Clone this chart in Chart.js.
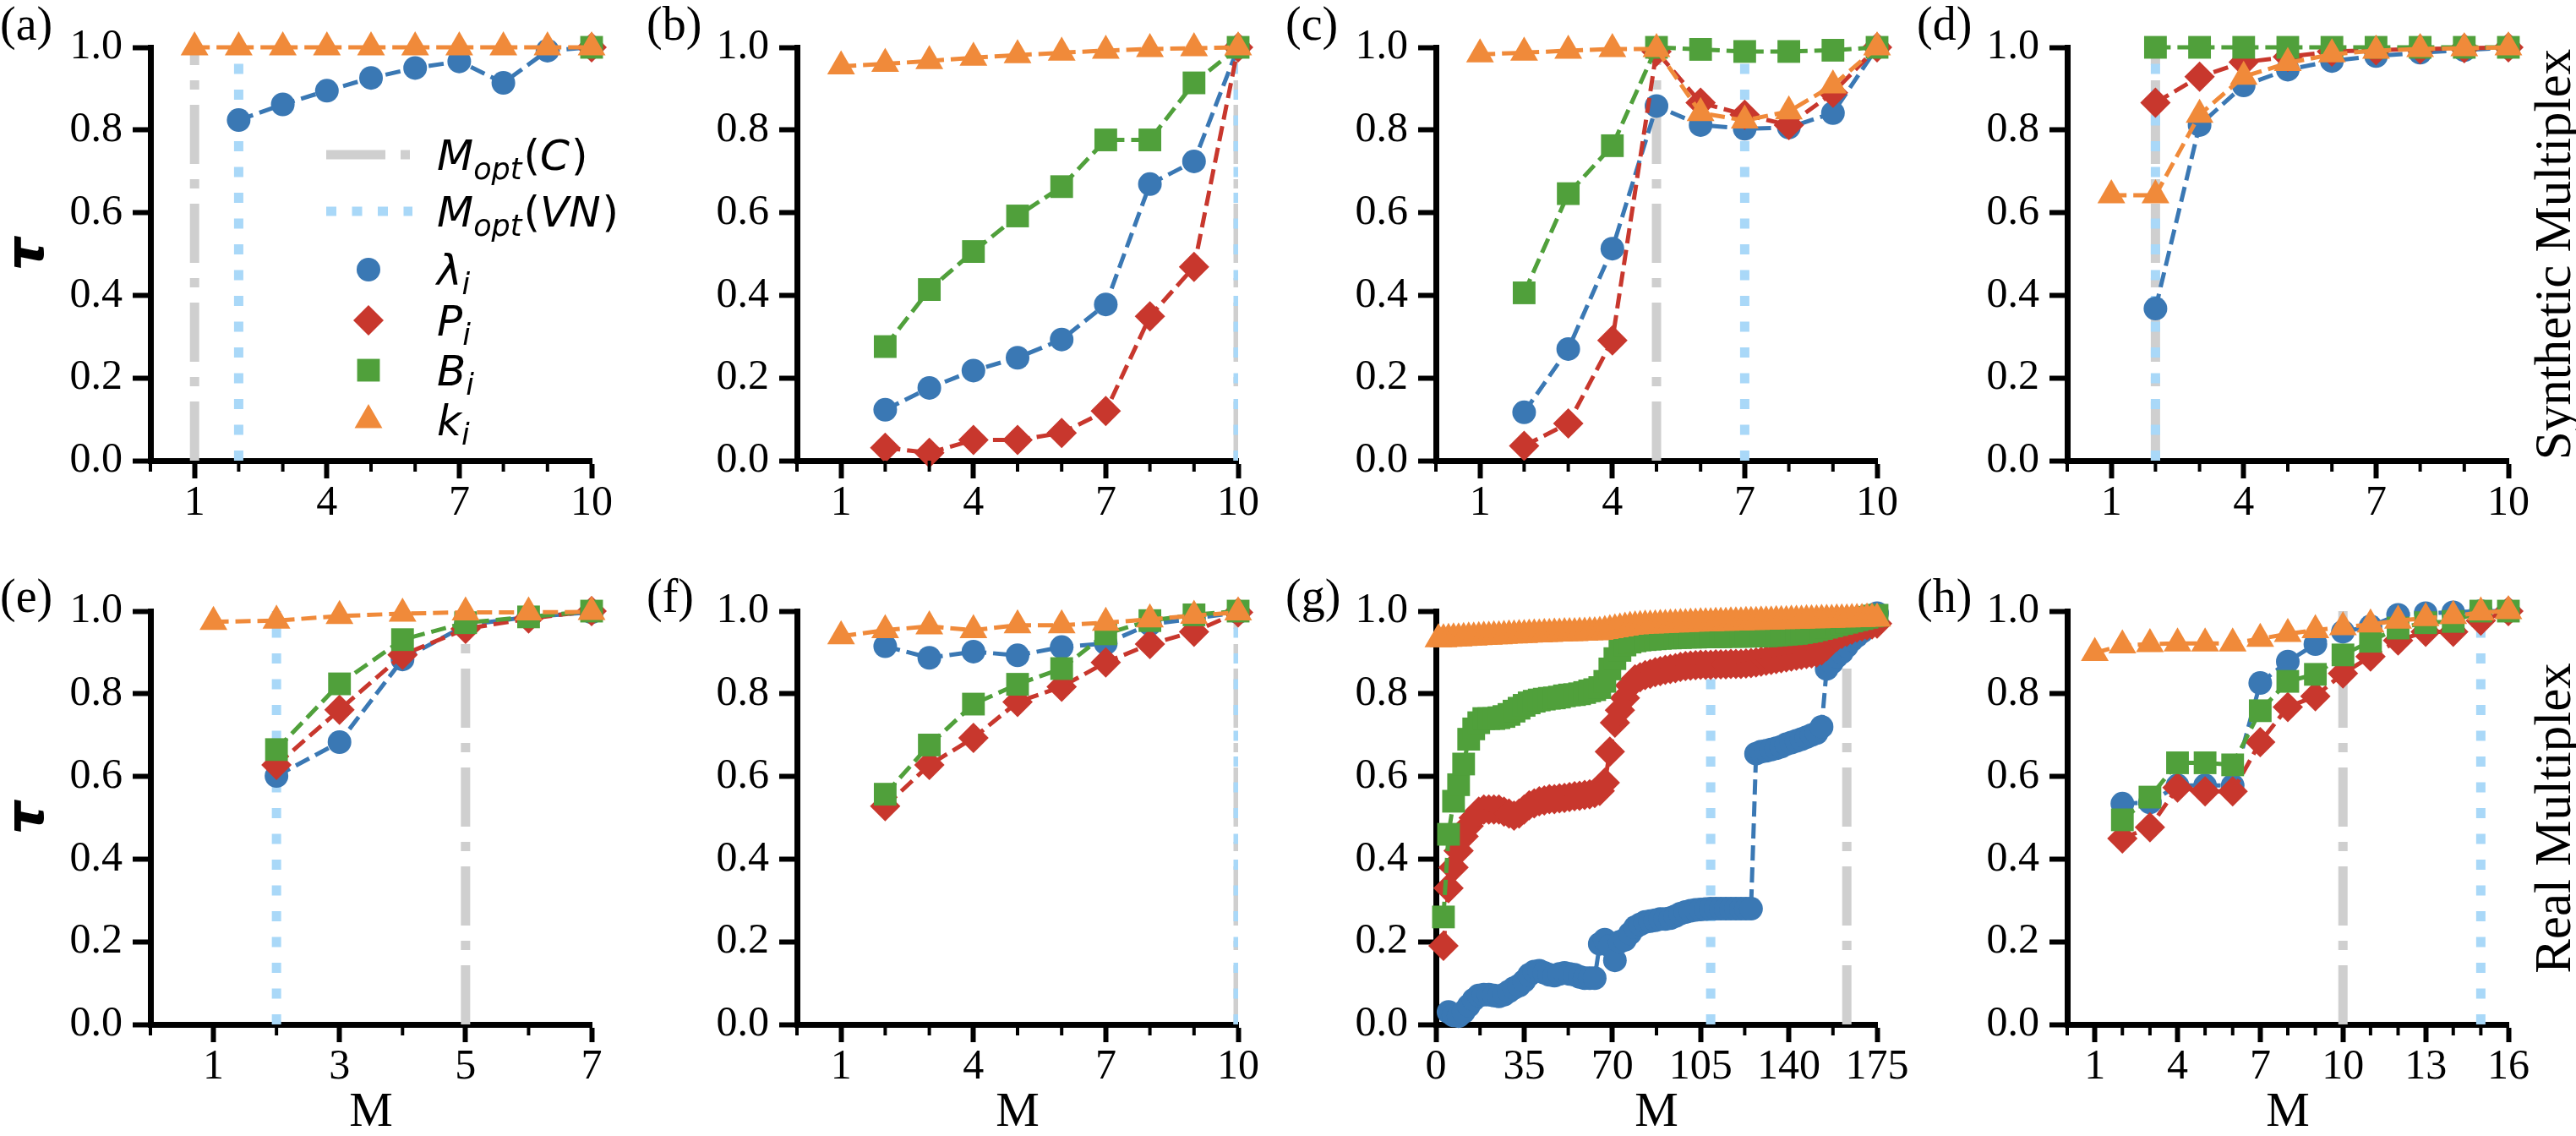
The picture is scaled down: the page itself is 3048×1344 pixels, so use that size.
<!DOCTYPE html>
<html>
<head>
<meta charset="utf-8">
<script src="https://cdn.jsdelivr.net/npm/chart.js@4.4.0/dist/chart.umd.min.js"></script>
<style>
  body { margin: 0; background: #fff; width: 3048px; height: 1344px; position: relative; overflow: hidden; }
  canvas { position: absolute; }
  .tag { position: absolute; font: 56px "Liberation Serif", serif; line-height: 56px; color: #000; white-space: nowrap; }
  .side { position: absolute; font: 61px "Liberation Serif", serif; color: #000; white-space: nowrap;
          transform: translate(-50%, -50%) rotate(-90deg); }
</style>
</head>
<body>
<div class="tag" style="left:0px;top:0px">(a)</div>
<div class="tag" style="left:765px;top:0px">(b)</div>
<div class="tag" style="left:1521px;top:0px">(c)</div>
<div class="tag" style="left:2268px;top:0px">(d)</div>
<div class="tag" style="left:0px;top:677px">(e)</div>
<div class="tag" style="left:765px;top:677px">(f)</div>
<div class="tag" style="left:1521px;top:677px">(g)</div>
<div class="tag" style="left:2268px;top:677px">(h)</div>
<div class="side" style="left:3021px;top:301px">Synthetic Multiplex</div>
<div class="side" style="left:3021px;top:968px">Real Multiplex</div>

<script>
// ── Data ──────────────────────────────────────────────────
const M10 = [1, 2, 3, 4, 5, 6, 7, 8, 9, 10];
const M7 = [1, 2, 3, 4, 5, 6, 7];
const M16 = [1, 2, 3, 4, 5, 6, 7, 8, 9, 10, 11, 12, 13, 14, 15, 16];

// (a)
const aLam = [null, 0.824, 0.862, 0.895, 0.926, 0.950, 0.966, 0.914, 0.992, 1.0];
const aP   = [null, null, null, null, null, null, null, null, null, 1.0];
const aB   = [null, null, null, null, null, null, null, null, null, 1.0];
const aK   = [1.0, 1.0, 1.0, 1.0, 1.0, 1.0, 1.0, 1.0, 1.0, 1.0];
// (b)
const bLam = [null, 0.123, 0.176, 0.218, 0.249, 0.293, 0.378, 0.669, 0.724, 1.0];
const bP   = [null, 0.031, 0.019, 0.050, 0.050, 0.067, 0.120, 0.349, 0.469, 1.0];
const bB   = [null, 0.276, 0.414, 0.506, 0.592, 0.663, 0.776, 0.776, 0.914, 1.0];
const bK   = [0.954, 0.960, 0.967, 0.975, 0.981, 0.987, 0.992, 0.996, 0.998, 1.0];
// (c)
const cLam = [null, 0.117, 0.270, 0.513, 0.858, 0.812, 0.803, 0.806, 0.841, 1.0];
const cP   = [null, 0.036, 0.090, 0.291, 0.990, 0.866, 0.837, 0.812, 0.890, 1.0];
const cB   = [null, 0.406, 0.646, 0.762, 1.0, 0.995, 0.990, 0.990, 0.993, 1.0];
const cK   = [0.983, 0.987, 0.992, 0.996, 0.996, 0.841, 0.823, 0.845, 0.908, 1.0];
// (d)
const dLam = [null, 0.368, 0.812, 0.908, 0.946, 0.967, 0.979, 0.987, 0.993, 1.0];
const dP   = [null, 0.866, 0.929, 0.964, 0.977, 0.990, 0.993, 0.996, 0.998, 1.0];
const dB   = [null, 1.0, 1.0, 1.0, 1.0, 1.0, 1.0, 1.0, 1.0, 1.0];
const dK   = [0.642, 0.642, 0.837, 0.929, 0.962, 0.983, 0.992, 0.996, 0.998, 1.0];
// (e)
const eLam = [null, 0.601, 0.683, 0.883, 0.966, 0.986, 0.997];
const eP   = [null, 0.628, 0.761, 0.894, 0.957, 0.982, 1.0];
const eB   = [null, 0.665, 0.824, 0.931, 0.972, 0.986, 1.0];
const eK   = [0.974, 0.977, 0.988, 0.994, 0.997, 0.997, 0.998];
// (f)
const fLam = [null, 0.915, 0.887, 0.902, 0.893, 0.913, 0.922, 0.968, 0.982, 0.997];
const fP   = [null, 0.528, 0.628, 0.693, 0.780, 0.817, 0.876, 0.920, 0.950, 0.997];
const fB   = [null, 0.557, 0.676, 0.775, 0.823, 0.861, 0.945, 0.977, 0.991, 1.0];
const fK   = [0.939, 0.954, 0.963, 0.954, 0.966, 0.966, 0.972, 0.980, 0.989, 0.997];
// (g) read every other M
const gM = [1, 3, 5, 7, 9, 11, 13, 15, 17, 19, 21, 23, 25, 27, 29, 31, 33, 35, 37, 39,
  41, 43, 45, 47, 49, 51, 53, 55, 57, 59, 61, 63, 65, 67, 69, 71, 73, 75, 77, 79,
  81, 83, 85, 87, 89, 91, 93, 95, 97, 99, 101, 103, 105, 107, 109, 111, 113, 115, 117, 119,
  121, 123, 125, 127, 129, 131, 133, 135, 137, 139, 141, 143, 145, 147, 149, 151, 153, 155, 157, 159,
  161, 163, 165, 167, 169, 171, 173, 175];
const gLam = [null, null, 0.03, 0.022, 0.02, 0.03, 0.045, 0.06, 0.07, 0.072,
  0.072, 0.07, 0.068, 0.072, 0.08, 0.088, 0.094, 0.105, 0.12, 0.128,
  0.13, 0.125, 0.12, 0.118, 0.122, 0.125, 0.122, 0.12, 0.115, 0.112,
  0.112, 0.112, 0.195, 0.205, 0.19, 0.155, 0.2, 0.205, 0.22, 0.235,
  0.242, 0.248, 0.25, 0.252, 0.255, 0.255, 0.257, 0.262, 0.268, 0.272,
  0.275, 0.277, 0.278, 0.279, 0.28, 0.28, 0.28, 0.28, 0.28, 0.28,
  0.28, 0.28, 0.28, 0.655, 0.66, 0.662, 0.665, 0.668, 0.672, 0.678,
  0.682, 0.686, 0.69, 0.695, 0.70, 0.705, 0.72, 0.86, 0.875, 0.89,
  0.90, 0.915, 0.93, 0.94, 0.95, 0.965, 0.985, 0.995];
const gP = [null, 0.19, 0.33, 0.38, 0.42, 0.455, 0.48, 0.50, 0.515, 0.52,
  0.52, 0.52, 0.52, 0.515, 0.51, 0.505, 0.51, 0.52, 0.53, 0.535,
  0.54, 0.542, 0.545, 0.545, 0.547, 0.548, 0.55, 0.552, 0.553, 0.555,
  0.557, 0.56, 0.565, 0.585, 0.66, 0.73, 0.76, 0.79, 0.82, 0.835,
  0.84, 0.845, 0.848, 0.852, 0.855, 0.858, 0.86, 0.862, 0.865, 0.867,
  0.868, 0.869, 0.87, 0.87, 0.87, 0.871, 0.871, 0.871, 0.872, 0.872,
  0.872, 0.873, 0.874, 0.876, 0.878, 0.88, 0.882, 0.884, 0.886, 0.888,
  0.89, 0.892, 0.894, 0.896, 0.898, 0.90, 0.905, 0.915, 0.93, 0.938,
  0.945, 0.95, 0.955, 0.96, 0.963, 0.966, 0.968, 0.97];
const gB = [null, 0.26, 0.46, 0.54, 0.58, 0.63, 0.69, 0.715, 0.73, 0.74,
  0.74, 0.74, 0.742, 0.745, 0.75, 0.758, 0.765, 0.772, 0.778, 0.782,
  0.785, 0.787, 0.789, 0.79, 0.792, 0.795, 0.797, 0.798, 0.80, 0.803,
  0.807, 0.81, 0.815, 0.83, 0.86, 0.885, 0.905, 0.918, 0.925, 0.928,
  0.93, 0.931, 0.932, 0.933, 0.934, 0.935, 0.935, 0.936, 0.936, 0.937,
  0.937, 0.937, 0.938, 0.938, 0.938, 0.938, 0.938, 0.939, 0.939, 0.939,
  0.939, 0.939, 0.94, 0.94, 0.94, 0.94, 0.941, 0.942, 0.943, 0.944,
  0.945, 0.946, 0.948, 0.95, 0.952, 0.955, 0.958, 0.961, 0.964, 0.967,
  0.97, 0.973, 0.976, 0.979, 0.982, 0.985, 0.988, 0.99];
const gK = [0.932, 0.932, 0.933, 0.934, 0.934, 0.935, 0.936, 0.936, 0.937, 0.938,
  0.938, 0.939, 0.939, 0.940, 0.941, 0.941, 0.942, 0.942, 0.943, 0.944,
  0.944, 0.945, 0.945, 0.946, 0.946, 0.947, 0.947, 0.947, 0.948, 0.948,
  0.949, 0.949, 0.950, 0.952, 0.954, 0.956, 0.958, 0.960, 0.962, 0.963,
  0.964, 0.965, 0.965, 0.966, 0.967, 0.967, 0.968, 0.968, 0.969, 0.969,
  0.970, 0.970, 0.971, 0.971, 0.971, 0.972, 0.972, 0.972, 0.973, 0.973,
  0.973, 0.974, 0.974, 0.974, 0.975, 0.975, 0.975, 0.976, 0.976, 0.976,
  0.977, 0.977, 0.977, 0.978, 0.978, 0.978, 0.979, 0.979, 0.979, 0.980,
  0.980, 0.980, 0.981, 0.981, 0.981, 0.982, 0.982, 0.982];
// (h)
const hLam = [null, 0.534, 0.537, 0.578, 0.578, 0.578, 0.826, 0.878, 0.920, 0.950, 0.963, 0.991, 0.995, 0.997, 1.0, 1.0];
const hP   = [null, 0.450, 0.477, 0.573, 0.564, 0.564, 0.683, 0.768, 0.794, 0.849, 0.890, 0.929, 0.950, 0.950, 0.977, 1.0];
const hB   = [null, 0.495, 0.550, 0.633, 0.633, 0.628, 0.759, 0.830, 0.847, 0.894, 0.927, 0.959, 0.972, 0.975, 1.0, 1.0];
const hK   = [0.899, 0.917, 0.920, 0.922, 0.922, 0.922, 0.933, 0.945, 0.954, 0.961, 0.968, 0.977, 0.983, 0.988, 0.997, 1.0];

// optimal M markers (vertical lines): [C, VN]
const optA = [1, 2], optB = [10, 10], optC = [5, 7], optD = [2, 2];
const optE = [5, 2], optF = [10, 10], optG = [163, 109], optH = [10, 15];

// axis ticks
const major10 = [1, 4, 7, 10];
const minor10 = [0, 2, 3, 5, 6, 8, 9];
const major7 = [1, 3, 5, 7];
const minor7 = [0, 2, 4, 6];
const major175 = [0, 35, 70, 105, 140, 175];
const minor175 = [17.5, 52.5, 87.5, 122.5, 157.5];
const major16 = [1, 4, 7, 10, 13, 16];
const minor16 = [0, 2, 3, 5, 6, 8, 9, 11, 12, 14, 15];

// ── Look ──────────────────────────────────────────────────
const BLUE = "#3a78b4", RED = "#c8372d", GREEN = "#50a03b", ORANGE = "#f08a3a";
const GREY_LINE = "#cfcfcf", SKY_LINE = "#a9d8f8";
const SERIF = '"Liberation Serif", serif';
const Y_AXIS_W = 180, PAD_TOP = 60, PAD_RIGHT = 60, AXIS_W = 522, AXIS_H = 489;
const TRI_R = 19;

const panels = [
  { M: M10, lam: aLam, P: aP, B: aB, k: aK, opt: optA, xMax: 10, major: major10, minor: minor10, sx: 178,  ty: 56,  legend: true, tau: true },
  { M: M10, lam: bLam, P: bP, B: bB, k: bK, opt: optB, xMax: 10, major: major10, minor: minor10, sx: 943,  ty: 56 },
  { M: M10, lam: cLam, P: cP, B: cB, k: cK, opt: optC, xMax: 10, major: major10, minor: minor10, sx: 1699, ty: 56 },
  { M: M10, lam: dLam, P: dP, B: dB, k: dK, opt: optD, xMax: 10, major: major10, minor: minor10, sx: 2446, ty: 56 },
  { M: M7,  lam: eLam, P: eP, B: eB, k: eK, opt: optE, xMax: 7,  major: major7,  minor: minor7,  sx: 178,  ty: 723, bottom: true, tau: true },
  { M: M10, lam: fLam, P: fP, B: fB, k: fK, opt: optF, xMax: 10, major: major10, minor: minor10, sx: 943,  ty: 723, bottom: true },
  { M: gM,  lam: gLam, P: gP, B: gB, k: gK, opt: optG, xMax: 175, major: major175, minor: minor175, sx: 1699, ty: 723, bottom: true },
  { M: M16, lam: hLam, P: hP, B: hB, k: hK, opt: optH, xMax: 16, major: major16, minor: minor16, sx: 2446, ty: 723, bottom: true },
];

function points(xs, ys) {
  const out = [];
  xs.forEach((x, i) => { if (ys[i] != null) out.push({ x, y: ys[i] }); });
  return out;
}

// short outward ticks between the labelled ones
const minorTicks = {
  id: "minorTicks",
  afterDraw(chart, args, opts) {
    const { ctx, chartArea } = chart;
    const xs = chart.scales.x;
    ctx.save();
    ctx.strokeStyle = "#000";
    ctx.lineWidth = 4;
    (opts.values || []).forEach((v) => {
      const px = xs.getPixelForValue(v);
      ctx.beginPath();
      ctx.moveTo(px, chartArea.bottom);
      ctx.lineTo(px, chartArea.bottom + 13);
      ctx.stroke();
    });
    ctx.restore();
  },
};

function subLabel(ctx, x, yc, main, sub, tail) {
  const base = yc + 18;
  ctx.textAlign = "left";
  ctx.textBaseline = "alphabetic";
  ctx.font = 'italic 50px "DejaVu Sans"';
  ctx.fillText(main, x, base);
  x += ctx.measureText(main).width;
  ctx.font = 'italic 35px "DejaVu Sans"';
  ctx.fillText(sub, x, base + 11);
  x += ctx.measureText(sub).width + 2;
  if (tail) {
    ctx.font = '50px "DejaVu Sans"';
    ctx.fillText("(", x, base);
    x += ctx.measureText("(").width;
    ctx.font = 'italic 50px "DejaVu Sans"';
    ctx.fillText(tail, x, base);
    x += ctx.measureText(tail).width + 2;
    ctx.font = '50px "DejaVu Sans"';
    ctx.fillText(")", x, base);
  }
}

// legend for panel (a)
const optLegend = {
  id: "optLegend",
  afterDraw(chart) {
    const { ctx, chartArea: ca } = chart;
    const x0 = ca.left + 208, x1 = ca.left + 310, mx = ca.left + 258, tx = ca.left + 339;
    const rows = [127, 194, 263, 323, 382, 441].map((r) => ca.top + r);
    ctx.save();
    ctx.lineCap = "butt";
    ctx.lineWidth = 11;
    ctx.strokeStyle = GREY_LINE;
    ctx.setLineDash([70, 18, 11, 18]);
    ctx.beginPath(); ctx.moveTo(x0, rows[0]); ctx.lineTo(x1, rows[0]); ctx.stroke();
    ctx.strokeStyle = SKY_LINE;
    ctx.setLineDash([12, 18.5]);
    ctx.beginPath(); ctx.moveTo(x0, rows[1]); ctx.lineTo(x1, rows[1]); ctx.stroke();
    ctx.setLineDash([]);
    const marks = [
      [BLUE, "circle", 14], [RED, "rectRot", 18], [GREEN, "rect", 19], [ORANGE, "triangle", TRI_R],
    ];
    marks.forEach(([c, style, r], i) => {
      ctx.fillStyle = c;
      Chart.helpers.drawPoint(ctx, { pointStyle: style, radius: r, borderWidth: 0, rotation: 0 }, mx, rows[i + 2]);
    });
    ctx.fillStyle = "#000";
    subLabel(ctx, tx, rows[0], "M", "opt", "C");
    subLabel(ctx, tx, rows[1], "M", "opt", "VN");
    subLabel(ctx, tx, rows[2], "λ", "i");
    subLabel(ctx, tx, rows[3], "P", "i");
    subLabel(ctx, tx, rows[4], "B", "i");
    subLabel(ctx, tx, rows[5], "k", "i");
    ctx.restore();
  },
};

function seriesSet(p) {
  const base = { showLine: true, borderWidth: 5, borderDash: [18, 8], tension: 0, clip: false, pointBorderWidth: 0 };
  const mk = (ys, color, style, r, order) => Object.assign({}, base, {
    data: points(p.M, ys), borderColor: color, backgroundColor: color,
    pointBackgroundColor: color, pointBorderColor: color, pointStyle: style, pointRadius: r, order,
  });
  const vline = (x, color, dash, order) => ({
    data: [{ x, y: 0 }, { x, y: 1 }], showLine: true, borderColor: color, borderWidth: 11,
    borderDash: dash, borderCapStyle: "butt", pointRadius: 0, order,
  });
  return [
    mk(p.k, ORANGE, "triangle", TRI_R, 1),
    mk(p.B, GREEN, "rect", 19, 2),
    mk(p.P, RED, "rectRot", 18, 3),
    mk(p.lam, BLUE, "circle", 14, 4),
    vline(p.opt[1], SKY_LINE, [12, 18.5], 10),
    vline(p.opt[0], GREY_LINE, [70, 18, 11, 18], 11),
  ];
}

function makePanel(p) {
  const xH = p.bottom ? 150 : 100;
  const canvas = document.createElement("canvas");
  canvas.width = Y_AXIS_W + AXIS_W + PAD_RIGHT;
  canvas.height = PAD_TOP + AXIS_H + xH;
  canvas.style.left = (p.sx - Y_AXIS_W) + "px";
  canvas.style.top = (p.ty - PAD_TOP) + "px";
  document.body.appendChild(canvas);

  const axisGrid = { display: true, drawOnChartArea: false, drawTicks: true, tickLength: 21, tickWidth: 6, tickColor: "#000" };
  const axisBorder = { display: true, width: 7, color: "#000" };
  const tickFont = { family: SERIF, size: 50 };

  new Chart(canvas, {
    type: "scatter",
    data: { datasets: seriesSet(p) },
    options: {
      responsive: false,
      animation: false,
      events: [],
      devicePixelRatio: 1,
      layout: { padding: { top: PAD_TOP, right: PAD_RIGHT, left: 0, bottom: 0 } },
      plugins: {
        legend: { display: false },
        tooltip: { enabled: false },
        minorTicks: { values: p.minor },
      },
      scales: {
        x: {
          type: "linear", min: 0, max: p.xMax,
          afterBuildTicks: (s) => { s.ticks = p.major.map((v) => ({ value: v })); },
          afterFit: (s) => { s.height = xH; },
          ticks: { font: tickFont, color: "#000", padding: 0, autoSkip: false, maxRotation: 0, callback: (v) => String(v) },
          grid: axisGrid,
          border: axisBorder,
          title: { display: !!p.bottom, text: "M", color: "#000", font: { family: SERIF, size: 58, lineHeight: 1.2 }, padding: { top: 0, bottom: 10 } },
        },
        y: {
          type: "linear", min: 0, max: 1,
          afterFit: (s) => { s.width = Y_AXIS_W; },
          ticks: { stepSize: 0.2, font: tickFont, color: "#000", padding: 12, callback: (v) => v.toFixed(1) },
          grid: axisGrid,
          border: axisBorder,
          title: { display: !!p.tau, text: "τ", color: "#000", font: { family: '"DejaVu Sans"', size: 62, style: "italic", weight: "bold", lineHeight: 1 }, padding: { top: 6, bottom: 0 } },
        },
      },
    },
    plugins: p.legend ? [minorTicks, optLegend] : [minorTicks],
  });
}

panels.forEach(makePanel);
</script>
</body>
</html>
